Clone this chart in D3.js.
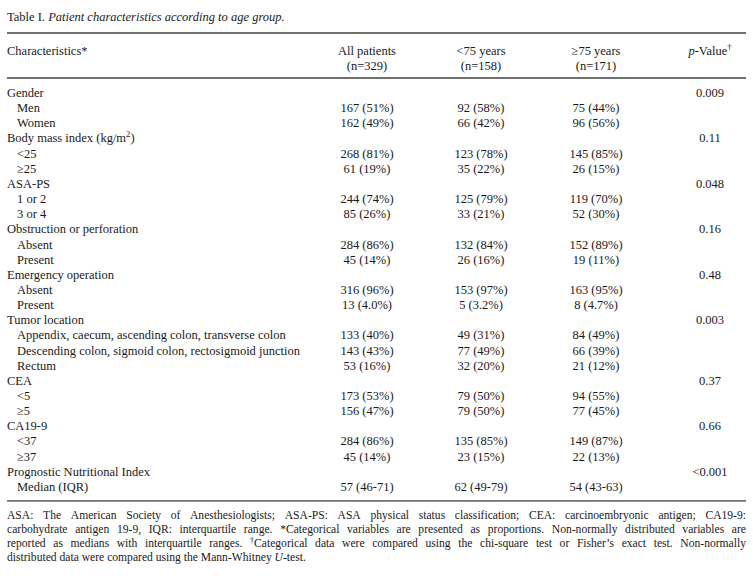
<!DOCTYPE html>
<html>
<head>
<meta charset="utf-8">
<script src="https://cdn.jsdelivr.net/npm/d3@7"></script>
<style>
  html, body { margin: 0; padding: 0; background: #fff; }
  svg text { font-family: "Liberation Serif", "Times New Roman", serif; fill: #1a1a1a; }
</style>
</head>
<body>
<svg id="chart" width="753" height="578"></svg>
<script>
// ---------------- data ----------------
const titleLabel = "Table I.";
const titleText = "Patient characteristics according to age group.";

const columnKeys = ["all", "young", "old", "p"];
const columnHeaderLine1 = ["All patients", "<75 years", "≥75 years", "<i>p</i>-Value<sup>†</sup>"];
const columnHeaderLine2 = ["(n=329)", "(n=158)", "(n=171)", ""];
const firstHeader = "Characteristics*";

const rowLabels = [
  "Gender", "Men", "Women",
  "Body mass index (kg/m<sup>2</sup>)", "<25", "≥25",
  "ASA-PS", "1 or 2", "3 or 4",
  "Obstruction or perforation", "Absent", "Present",
  "Emergency operation", "Absent", "Present",
  "Tumor location", "Appendix, caecum, ascending colon, transverse colon",
  "Descending colon, sigmoid colon, rectosigmoid junction", "Rectum",
  "CEA", "<5", "≥5",
  "CA19-9", "<37", "≥37",
  "Prognostic Nutritional Index", "Median (IQR)"
];
const rowLevel = [0,1,1, 0,1,1, 0,1,1, 0,1,1, 0,1,1, 0,1,1,1, 0,1,1, 0,1,1, 0,1];

const allPatients = [
  "", "167 (51%)", "162 (49%)",
  "", "268 (81%)", "61 (19%)",
  "", "244 (74%)", "85 (26%)",
  "", "284 (86%)", "45 (14%)",
  "", "316 (96%)", "13 (4.0%)",
  "", "133 (40%)", "143 (43%)", "53 (16%)",
  "", "173 (53%)", "156 (47%)",
  "", "284 (86%)", "45 (14%)",
  "", "57 (46-71)"
];
const under75 = [
  "", "92 (58%)", "66 (42%)",
  "", "123 (78%)", "35 (22%)",
  "", "125 (79%)", "33 (21%)",
  "", "132 (84%)", "26 (16%)",
  "", "153 (97%)", "5 (3.2%)",
  "", "49 (31%)", "77 (49%)", "32 (20%)",
  "", "79 (50%)", "79 (50%)",
  "", "135 (85%)", "23 (15%)",
  "", "62 (49-79)"
];
const over75 = [
  "", "75 (44%)", "96 (56%)",
  "", "145 (85%)", "26 (15%)",
  "", "119 (70%)", "52 (30%)",
  "", "152 (89%)", "19 (11%)",
  "", "163 (95%)", "8 (4.7%)",
  "", "84 (49%)", "66 (39%)", "21 (12%)",
  "", "94 (55%)", "77 (45%)",
  "", "149 (87%)", "22 (13%)",
  "", "54 (43-63)"
];
const pValues = [
  "0.009", "", "",
  "0.11", "", "",
  "0.048", "", "",
  "0.16", "", "",
  "0.48", "", "",
  "0.003", "", "", "",
  "0.37", "", "",
  "0.66", "", "",
  "<0.001", ""
];

const footnoteLines = [
  "ASA: The American Society of Anesthesiologists; ASA-PS: ASA physical status classification; CEA: carcinoembryonic antigen; CA19-9:",
  "carbohydrate antigen 19-9, IQR: interquartile range. *Categorical variables are presented as proportions. Non-normally distributed variables are",
  "reported as medians with interquartile ranges. <sup>†</sup>Categorical data were compared using the chi-square test or Fisher’s exact test. Non-normally",
  "distributed data were compared using the Mann-Whitney <i>U</i>-test."
];

// ---------------- layout ----------------
const left = 7, right = 746;
const fontSize = 12.5, footSize = 11.6;
const titleY = 21, topRuleY = 33, head1Y = 55, head2Y = 70, headRuleY = 78;
const firstRowY = 97, rowStep = 15.15;
const svg = d3.select("#chart");

// rich text: supports <i>..</i> and <sup>..</sup>
function appendRich(textSel, str, size) {
  const re = /<(i|sup)>(.*?)<\/\1>/g;
  let last = 0, m;
  const parts = [];
  while ((m = re.exec(str)) !== null) {
    if (m.index > last) parts.push({t: str.slice(last, m.index), k: "n"});
    parts.push({t: m[2], k: m[1]});
    last = re.lastIndex;
  }
  if (last < str.length) parts.push({t: str.slice(last), k: "n"});
  parts.forEach(p => {
    const ts = textSel.append("tspan").text(p.t);
    if (p.k === "i") ts.attr("font-style", "italic");
    if (p.k === "sup") ts.attr("font-size", size * 0.7).attr("baseline-shift", "super");
  });
  return textSel;
}

// scales
const y = d3.scaleLinear().domain([0, rowLabels.length - 1])
  .range([firstRowY, firstRowY + rowStep * (rowLabels.length - 1)]);
const x = d3.scaleOrdinal().domain(columnKeys).range([367, 481, 596, 710]);
const indent = d3.scaleOrdinal().domain([0, 1]).range([left, left + 10]);

// title
const title = svg.append("text").attr("x", left).attr("y", titleY).attr("font-size", fontSize);
title.append("tspan").text(titleLabel + " ");
title.append("tspan").attr("font-style", "italic").text(titleText);

// rules
const rules = [topRuleY, headRuleY, y(rowLabels.length - 1) + 10];
svg.selectAll("line.rule").data(rules).enter().append("line")
  .attr("class", "rule")
  .attr("x1", left).attr("x2", right)
  .attr("y1", d => d).attr("y2", d => d)
  .attr("stroke", "#707070").attr("stroke-width", 1.9);

// header
svg.append("text").attr("x", left).attr("y", head1Y).attr("font-size", fontSize).text(firstHeader);
columnKeys.forEach((k, i) => {
  const t1 = svg.append("text").attr("x", x(k)).attr("y", head1Y)
    .attr("text-anchor", "middle").attr("font-size", fontSize);
  appendRich(t1, columnHeaderLine1[i], fontSize);
  if (columnHeaderLine2[i]) {
    svg.append("text").attr("x", x(k)).attr("y", head2Y)
      .attr("text-anchor", "middle").attr("font-size", fontSize).text(columnHeaderLine2[i]);
  }
});

// rows
const rows = rowLabels.map((lab, i) => ({
  i, lab, lvl: rowLevel[i],
  vals: {all: allPatients[i], young: under75[i], old: over75[i], p: pValues[i]}
}));
const g = svg.append("g");
rows.forEach(r => {
  const t = g.append("text").attr("x", indent(r.lvl)).attr("y", y(r.i)).attr("font-size", fontSize);
  appendRich(t, r.lab, fontSize);
  columnKeys.forEach(k => {
    if (r.vals[k]) {
      g.append("text").attr("x", x(k)).attr("y", y(r.i))
        .attr("text-anchor", "middle").attr("font-size", fontSize).text(r.vals[k]);
    }
  });
});

// footnote, justified by word spacing
const footY0 = rules[2] + 18.5, footStep = 13.8;
footnoteLines.forEach((line, li) => {
  const words = line.split(" ");
  const yy = footY0 + li * footStep;
  const grp = svg.append("g");
  const nodes = words.map(w => {
    const t = grp.append("text").attr("y", yy).attr("font-size", footSize);
    appendRich(t, w, footSize);
    return t;
  });
  const widths = nodes.map(n => n.node().getComputedTextLength());
  const total = d3.sum(widths);
  const isLast = li === footnoteLines.length - 1;
  const minGap = footSize * 0.2;
  let gap = isLast ? footSize * 0.25 : (right - left - total) / (words.length - 1);
  let scale = 1;
  if (!isLast && gap < minGap) {
    gap = minGap;
    scale = (right - left - gap * (words.length - 1)) / total;
  }
  let cx = left;
  nodes.forEach((n, j) => { n.attr("x", cx / scale); cx += widths[j] * scale + gap; });
  if (scale !== 1) grp.attr("transform", `scale(${scale},1)`);
});
</script>
</body>
</html>
